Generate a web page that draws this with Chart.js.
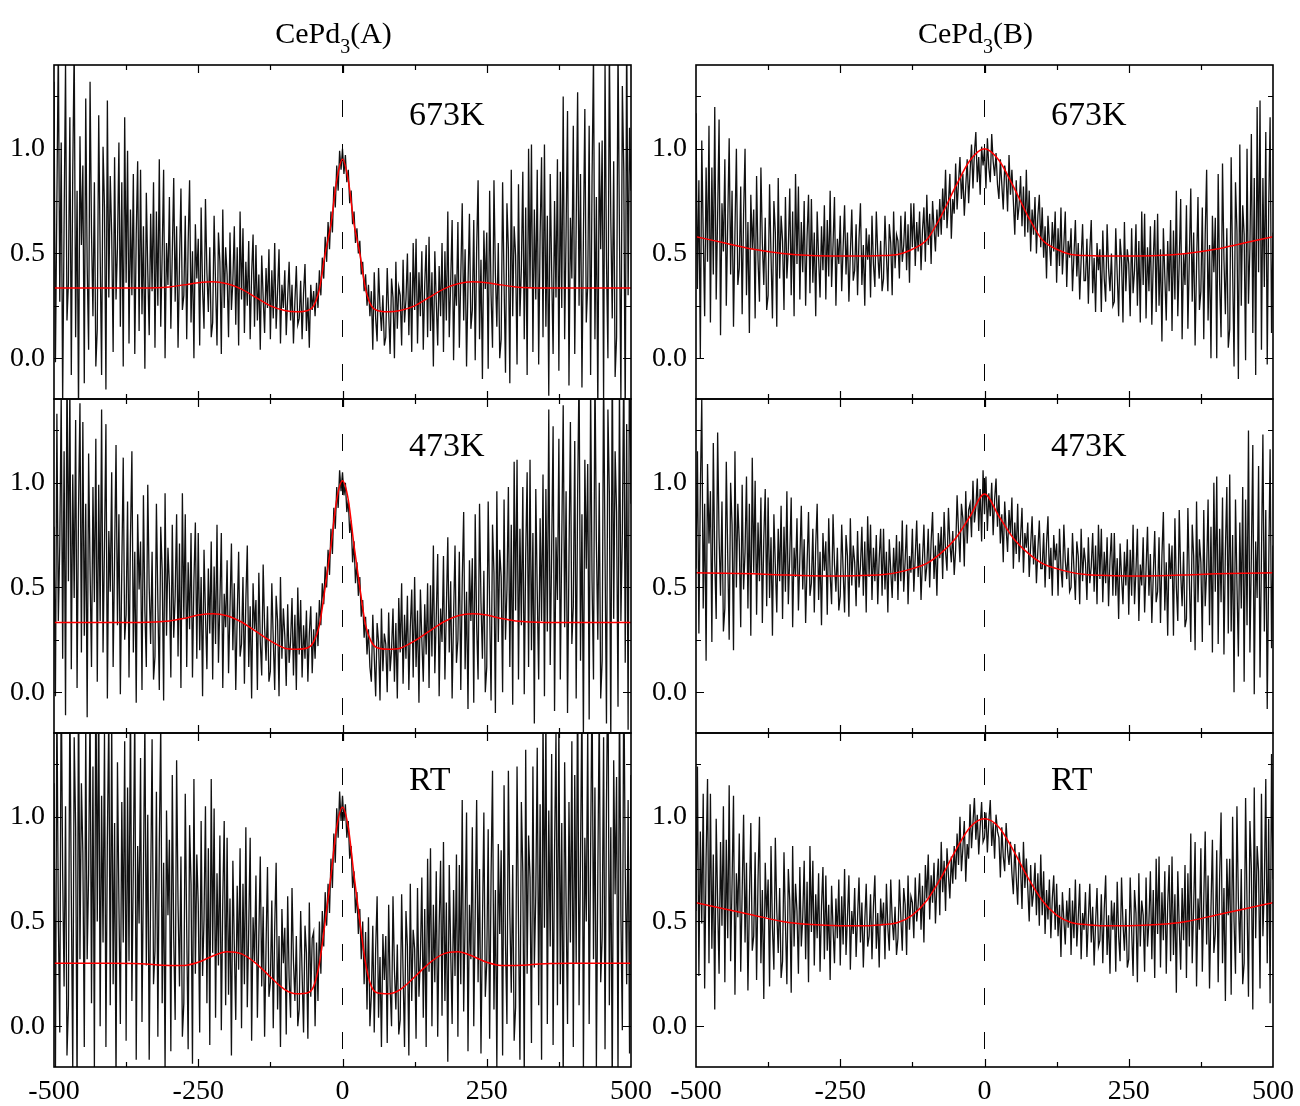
<!DOCTYPE html>
<html>
<head>
<meta charset="utf-8">
<script src="https://cdn.jsdelivr.net/npm/chart.js@4.4.0/dist/chart.umd.min.js"></script>
<style>
  body { margin: 0; background: #fff; }
  #wrap { position: relative; width: 1300px; height: 1106px; }
  #wrap canvas { position: absolute; }
</style>
</head>
<body>
<div id="wrap"></div>
<script>
// axis ticks
const xLabels = [-500, -250, 0, 250, 500];
const xMinor = [-375, -125, 125, 375];
const yLabels = [0, 0.5, 1.0];
const yMinor = [0.25, 0.75, 1.25];
const yMin = -0.195, yMax = 1.40;

// measured spectra, one sample every 2.5 units from -500 to 500
const noiseX = Array.from({ length: 401 }, (_, i) => -500 + 2.5 * i);

const noiseA673 = [
  1.32,-.02,.75,1.51,.27,1.03,-.21,.65,1.41,.18,
  .36,1.15,-.08,.89,1.5,.1,.8,-.25,1.06,.54,
  .92,-.12,1.24,.44,.04,1.32,.6,.2,.84,-.04,
  .14,1.16,.5,-.08,1.01,.72,-.15,1.23,.29,.87,
  .59,.03,.96,.28,.53,1.03,.15,.84,-.04,1.15,
  .36,.99,.07,.71,.3,.88,.02,.59,.94,.13,
  .9,.21,.63,-.05,.79,.42,.11,.69,.32,.84,
  .05,.7,.25,.95,.15,.5,.9,.0,.55,.35,
  .77,.14,.5,.86,.27,.63,.05,.45,.81,.23,
  .3,.68,.09,.55,.85,.17,.51,.0,.64,.38,
  .57,.06,.72,.33,.14,.76,.41,.22,.53,.1,
  .17,.68,.35,.06,.6,.46,.02,.71,.24,.53,
  .4,.1,.6,.23,.37,.63,.16,.53,.06,.7,
  .28,.62,.12,.46,.25,.56,.09,.4,.59,.15,
  .54,.18,.4,.04,.49,.29,.12,.43,.24,.52,
  .09,.42,.19,.55,.14,.32,.52,.07,.35,.24,
  .42,.11,.29,.46,.18,.35,.07,.27,.44,.16,
  .19,.37,.09,.31,.45,.13,.29,.05,.35,.23,
  .32,.2,.36,.24,.42,.3,.48,.38,.58,.46,
  .65,.52,.7,.6,.82,.72,.92,.8,.99,.9,
  1.0,.88,.97,.84,.9,.74,.8,.64,.7,.55,
  .62,.5,.56,.4,.46,.32,.4,.25,.35,.2,
  .32,.04,.41,.19,.08,.43,.24,.13,.3,.06,
  .1,.43,.22,.02,.38,.29,.0,.46,.14,.34,
  .3,.06,.47,.17,.28,.5,.11,.41,.03,.55,
  .23,.57,.07,.41,.2,.51,.04,.35,.54,.1,
  .58,.13,.41,-.04,.51,.27,.06,.44,.2,.55,
  .03,.51,.18,.7,.1,.36,.66,-.01,.4,.25,
  .65,.05,.39,.74,.18,.52,-.04,.35,.69,.14,
  .23,.66,-.01,.52,.85,.09,.47,-.1,.61,.33,
  .6,-.05,.8,.3,.05,.85,.4,.15,.55,.0,
  .09,.84,.36,-.07,.74,.52,-.12,.9,.2,.63,
  .49,-.03,.83,.2,.43,.89,.09,.72,-.08,1.0,
  .34,1.02,.03,.71,.28,.9,-.03,.59,.96,.1,
  1.02,.15,.68,-.18,.88,.42,.02,.75,.29,.95,
  -.06,.89,.24,1.25,.09,.6,1.18,-.13,.67,.38,
  1.11,.02,.64,1.27,.25,.88,-.14,.57,1.19,.17,
  .35,1.11,-.08,.86,1.45,.09,.77,-.25,1.03,.52,
  1.04,-.19,1.41,.47,.0,1.51,.66,.19,.94,-.09,
  .1,1.5,.6,-.2,1.3,.9,-.3,1.6,.3,1.1,
  .8
];
const noiseA473 = [
  .79,-.02,1.33,.34,.7,1.42,.16,1.15,-.11,1.6,
  .53,1.47,.11,1.04,.45,1.3,.02,.87,1.38,.19,
  1.29,.27,.9,-.12,1.14,.59,.12,.98,.43,1.21,
  .05,.99,.34,1.35,.19,.7,1.28,-.03,.77,.48,
  1.05,.12,.65,1.18,.32,.85,-.01,.59,1.12,.25,
  .37,.91,.07,.73,1.15,.19,.67,-.05,.85,.49,
  .72,.01,.94,.39,.12,.99,.5,.23,.67,.06,
  .17,.9,.43,.01,.79,.58,-.04,.95,.27,.69,
  .51,.07,.8,.26,.46,.85,.17,.71,.02,.95,
  .35,.85,.12,.62,.3,.76,.07,.53,.81,.16,
  .76,.2,.55,-.02,.68,.37,.11,.59,.28,.72,
  .06,.6,.23,.8,.14,.43,.76,.02,.47,.31,
  .63,.09,.4,.71,.2,.52,.01,.36,.67,.17,
  .23,.55,.04,.44,.7,.12,.41,-.03,.52,.3,
  .44,.01,.57,.24,.08,.61,.31,.15,.41,.05,
  .1,.52,.25,.01,.46,.34,-.02,.55,.16,.4,
  .27,.03,.42,.14,.24,.45,.08,.37,.01,.5,
  .18,.44,.07,.32,.16,.39,.05,.28,.41,.09,
  .3,.16,.38,.22,.44,.32,.52,.42,.6,.5,
  .68,.56,.78,.66,.88,.78,.98,.88,1.06,.96,
  1.05,.94,1.0,.86,.92,.76,.82,.62,.72,.52,
  .62,.46,.55,.36,.44,.26,.36,.18,.3,.12,
  .05,.37,.17,-.02,.33,.24,-.04,.4,.1,.28,
  .23,.0,.38,.1,.2,.4,.05,.33,-.03,.45,
  .19,.52,.04,.37,.16,.46,.01,.31,.49,.07,
  .55,.12,.39,-.05,.49,.25,.05,.42,.18,.52,
  .02,.51,.17,.7,.09,.36,.66,-.02,.4,.24,
  .65,.06,.4,.74,.19,.53,-.03,.36,.7,.14,
  .25,.67,.01,.53,.86,.11,.48,-.08,.63,.34,
  .64,-.05,.85,.32,.06,.9,.43,.16,.58,.0,
  .12,.91,.4,-.04,.8,.57,-.1,.96,.24,.68,
  .55,.0,.92,.25,.49,.98,.12,.8,-.06,1.1,
  .39,1.11,.06,.78,.32,.98,-.01,.65,1.05,.12,
  1.11,.2,.76,-.15,.97,.48,.06,.83,.34,1.04,
  -.02,.97,.29,1.35,.13,.67,1.27,-.09,.74,.44,
  1.21,.06,.72,1.37,.31,.96,-.1,.64,1.29,.23,
  .41,1.2,-.03,.94,1.55,.15,.85,-.2,1.11,.59,
  1.09,-.13,1.46,.53,.06,1.56,.72,.25,1.0,-.03,
  .15,1.55,.65,-.15,1.35,.95,-.25,1.65,.35,1.15,
  .86,-.07,1.49,.34,.76,1.59,.14,1.28,-.18,1.8,
  .9
];
const noiseART = [
  1.16,-.24,1.59,.51,-.03,1.69,.73,.19,1.05,-.14,
  .1,1.59,.63,-.21,1.38,.95,-.32,1.69,.32,1.16,
  .83,-.1,1.44,.32,.73,1.55,.11,1.24,-.2,1.75,
  .5,1.6,.0,1.1,.4,1.4,-.1,.9,1.5,.1,
  1.46,.2,.97,-.28,1.26,.59,.01,1.07,.4,1.36,
  -.07,1.14,.31,1.6,.12,.77,1.51,-.16,.86,.49,
  1.28,.02,.74,1.46,.29,1.01,-.16,.65,1.37,.2,
  .36,1.12,-.05,.87,1.45,.11,.78,-.22,1.03,.53,
  .89,-.12,1.2,.42,.03,1.27,.58,.19,.81,-.05,
  .11,1.11,.46,-.11,.96,.68,-.18,1.18,.25,.82,
  .58,-.03,.98,.24,.51,1.05,.11,.85,-.09,1.18,
  .35,1.04,.04,.73,.29,.91,-.02,.6,.98,.1,
  .9,.15,.61,-.14,.79,.38,.03,.67,.27,.85,
  -.01,.68,.2,.95,.09,.47,.9,-.07,.52,.31,
  .72,.04,.43,.81,.19,.57,-.05,.38,.76,.14,
  .21,.6,-.01,.47,.78,.08,.43,-.1,.56,.3,
  .47,-.04,.62,.23,.04,.66,.31,.12,.43,.0,
  .08,.55,.25,-.03,.48,.35,-.06,.59,.14,.42,
  .45,.0,.4,.12,.5,.25,.55,.38,.64,.48,
  .68,.54,.8,.66,.92,.78,1.04,.9,1.12,.98,
  1.1,.98,1.06,.9,.98,.8,.86,.66,.74,.54,
  .64,.44,.56,.32,.5,.2,.45,.08,.52,.0,
  .15,.48,-.03,.37,.62,.04,.33,-.1,.44,.22,
  .43,-.08,.58,.19,.0,.62,.27,.08,.39,-.04,
  .03,.63,.25,-.1,.55,.38,-.14,.68,.12,.46,
  .37,-.06,.66,.14,.33,.71,.04,.56,-.1,.8,
  .26,.85,.0,.58,.21,.74,-.05,.48,.79,.05,
  .88,.12,.59,-.17,.77,.36,.01,.65,.24,.82,
  -.05,.77,.2,1.08,.07,.51,1.02,-.12,.58,.32,
  .95,.0,.54,1.08,.21,.75,-.13,.48,1.02,.14,
  .3,.94,-.06,.72,1.22,.08,.65,-.2,.87,.44,
  .84,-.14,1.15,.39,.01,1.22,.54,.16,.77,-.07,
  .09,1.24,.5,-.16,1.07,.74,-.24,1.32,.25,.91,
  .71,-.08,1.24,.28,.63,1.33,.1,1.06,-.16,1.5,
  .47,1.49,.01,1.03,.38,1.3,-.09,.84,1.4,.1,
  1.46,.2,.97,-.28,1.26,.59,.01,1.07,.4,1.36,
  -.1,1.2,.3,1.7,.1,.8,1.6,-.2,.9,.5,
  1.44,.01,.83,1.65,.32,1.14,-.2,.73,1.55,.21,
  .42,1.38,-.11,1.06,1.8,.1,.95,-.32,1.27,.63,
  1.19,-.24,1.63,.53,-.02,1.74,.75,.2,1.08,-.13,
  1.2
];
const noiseB673 = [
  1.17,.33,.85,.0,1.04,.59,.2,.91,.46,1.11,
  .17,.91,.4,1.2,.28,.68,1.14,.11,.74,.51,
  .95,.25,.65,1.05,.4,.8,.15,.6,1.0,.35,
  .43,.82,.21,.69,1.0,.3,.65,.12,.78,.52,
  .71,.19,.87,.47,.27,.91,.55,.35,.67,.23,
  .3,.83,.49,.19,.75,.6,.15,.86,.38,.68,
  .56,.23,.77,.38,.52,.81,.3,.7,.2,.88,
  .45,.82,.28,.65,.41,.75,.25,.58,.78,.31,
  .76,.36,.6,.2,.7,.48,.29,.63,.42,.73,
  .28,.66,.39,.8,.34,.54,.77,.25,.57,.45,
  .68,.32,.53,.73,.4,.6,.27,.5,.71,.37,
  .42,.64,.3,.57,.74,.35,.54,.25,.62,.47,
  .59,.29,.68,.45,.34,.7,.5,.38,.56,.32,
  .38,.68,.49,.32,.64,.55,.3,.7,.43,.59,
  .56,.38,.68,.46,.54,.7,.42,.64,.36,.74,
  .53,.74,.44,.65,.51,.7,.42,.61,.72,.46,
  .78,.54,.69,.45,.75,.62,.51,.71,.58,.76,
  .59,.81,.66,.9,.62,.74,.88,.57,.76,.69,
  .93,.71,.84,.96,.76,.88,.68,.82,.95,.74,
  .89,1.02,.81,.98,1.08,.84,.96,.78,1.01,.92,
  1.0,.81,1.05,.91,.84,1.07,.94,.87,.98,.83,
  .76,.95,.83,.71,.92,.87,.7,.97,.78,.9,
  .75,.59,.85,.66,.73,.87,.63,.82,.58,.9,
  .6,.8,.51,.71,.59,.77,.5,.68,.78,.53,
  .72,.48,.63,.38,.68,.55,.44,.65,.51,.7,
  .36,.62,.44,.72,.4,.54,.7,.34,.56,.48,
  .62,.32,.49,.66,.39,.55,.28,.47,.64,.37,
  .37,.57,.26,.51,.66,.31,.48,.22,.55,.42,
  .52,.22,.61,.38,.27,.64,.43,.32,.5,.25,
  .27,.62,.4,.2,.57,.47,.17,.65,.32,.52,
  .45,.2,.62,.31,.42,.64,.25,.56,.17,.7,
  .35,.69,.19,.53,.32,.63,.16,.47,.66,.22,
  .69,.25,.52,.08,.62,.39,.18,.56,.32,.66,
  .13,.61,.28,.8,.2,.46,.76,.09,.5,.35,
  .73,.14,.48,.81,.27,.6,.06,.44,.77,.23,
  .32,.72,.09,.59,.9,.18,.54,.0,.68,.41,
  .67,.0,.88,.36,.1,.93,.47,.21,.62,.05,
  .14,.96,.43,-.04,.84,.61,-.1,1.02,.25,.73,
  .59,-.01,1.0,.26,.53,1.07,.12,.86,-.08,1.2,
  .41,1.23,.04,.86,.34,1.08,-.03,.71,1.15,.12,
  .6
];
const noiseB473 = [
  .59,1.15,.28,.96,1.4,.4,.9,.15,1.09,.71,
  .96,.24,1.19,.63,.35,1.24,.74,.46,.91,.29,
  .4,1.1,.65,.25,1.0,.8,.2,1.15,.5,.9,
  .72,.31,.99,.49,.67,1.03,.4,.9,.27,1.12,
  .57,1.01,.37,.81,.53,.93,.33,.73,.97,.41,
  .93,.45,.74,.27,.85,.6,.38,.78,.53,.89,
  .35,.79,.48,.96,.42,.65,.93,.31,.69,.55,
  .83,.39,.64,.89,.49,.73,.33,.61,.86,.46,
  .52,.78,.38,.7,.9,.44,.67,.32,.76,.58,
  .72,.37,.83,.56,.42,.85,.61,.48,.69,.39,
  .46,.8,.58,.38,.75,.65,.36,.83,.51,.7,
  .62,.41,.77,.5,.6,.79,.46,.72,.38,.84,
  .55,.8,.44,.69,.53,.75,.42,.64,.78,.46,
  .78,.49,.67,.38,.73,.58,.45,.69,.53,.75,
  .44,.72,.53,.82,.48,.63,.8,.42,.65,.57,
  .78,.48,.65,.82,.55,.71,.44,.63,.8,.53,
  .6,.78,.5,.72,.86,.54,.7,.46,.76,.64,
  .79,.54,.86,.67,.58,.88,.71,.62,.77,.56,
  .68,.94,.77,.62,.9,.83,.6,.96,.71,.87,
  .9,.74,1.01,.81,.88,1.02,.77,.97,.72,1.06,
  .85,1.03,.77,.95,.84,1.0,.75,.92,1.02,.79,
  .94,.71,.85,.62,.91,.78,.67,.87,.75,.93,
  .59,.81,.66,.9,.62,.74,.88,.57,.76,.69,
  .81,.55,.7,.84,.61,.75,.52,.68,.82,.59,
  .59,.76,.5,.71,.84,.54,.69,.46,.75,.63,
  .71,.46,.78,.59,.5,.8,.63,.54,.69,.48,
  .5,.76,.59,.44,.72,.65,.42,.78,.53,.69,
  .62,.44,.74,.52,.6,.76,.48,.7,.42,.8,
  .54,.78,.43,.67,.52,.74,.41,.63,.76,.46,
  .76,.46,.64,.35,.71,.55,.42,.67,.51,.73,
  .37,.68,.46,.8,.42,.58,.78,.34,.61,.51,
  .74,.38,.59,.79,.46,.66,.33,.56,.77,.43,
  .48,.74,.33,.65,.86,.39,.62,.27,.71,.54,
  .7,.27,.83,.5,.34,.87,.57,.41,.67,.31,
  .35,.88,.54,.24,.8,.65,.2,.91,.43,.73,
  .62,.24,.87,.41,.58,.92,.32,.79,.19,1.0,
  .48,1.03,.23,.78,.43,.93,.18,.68,.98,.28,
  1.04,.29,.75,.0,.92,.52,.17,.81,.4,.98,
  .05,.92,.32,1.25,.19,.65,1.18,-.01,.72,.45,
  1.08,.07,.65,1.23,.29,.87,-.08,.58,1.16,.21,
  .7
];
const noiseBRT = [
  .55,1.24,.24,.93,.49,1.11,.18,.8,1.18,.3,
  1.11,.37,.82,.08,.99,.59,.25,.88,.48,1.05,
  .21,.89,.42,1.15,.31,.68,1.1,.15,.73,.52,
  .92,.26,.64,1.01,.4,.78,.17,.59,.97,.36,
  .43,.83,.22,.7,1.0,.3,.65,.13,.78,.52,
  .7,.19,.86,.47,.27,.9,.55,.35,.66,.23,
  .31,.83,.49,.2,.75,.6,.16,.86,.38,.68,
  .55,.25,.76,.38,.52,.79,.32,.69,.21,.86,
  .45,.79,.29,.63,.42,.73,.26,.57,.76,.32,
  .72,.36,.58,.22,.67,.47,.3,.61,.42,.7,
  .29,.62,.39,.75,.34,.52,.72,.27,.55,.44,
  .66,.33,.52,.71,.4,.59,.28,.5,.68,.38,
  .43,.63,.32,.57,.72,.37,.54,.28,.61,.48,
  .59,.32,.68,.47,.36,.7,.51,.41,.57,.34,
  .42,.7,.52,.36,.66,.58,.34,.72,.46,.62,
  .59,.42,.71,.5,.58,.73,.46,.67,.4,.77,
  .61,.82,.51,.72,.59,.78,.49,.68,.8,.53,
  .88,.64,.79,.55,.85,.72,.61,.81,.68,.86,
  .7,.92,.77,1.0,.74,.85,.98,.69,.87,.8,
  1.06,.85,.97,1.09,.89,1.01,.82,.95,1.07,.88,
  .9,1.02,.83,.98,1.08,.86,.97,.8,1.01,.93,
  .9,.71,.95,.81,.74,.97,.84,.77,.88,.73,
  .63,.87,.71,.58,.83,.76,.56,.88,.66,.8,
  .66,.5,.77,.57,.64,.78,.53,.73,.48,.82,
  .53,.74,.44,.65,.51,.7,.42,.61,.72,.46,
  .68,.43,.58,.33,.64,.51,.39,.6,.47,.66,
  .34,.6,.42,.7,.38,.52,.68,.32,.54,.46,
  .64,.33,.51,.68,.4,.57,.29,.49,.66,.38,
  .41,.63,.3,.56,.72,.34,.53,.25,.6,.46,
  .59,.26,.69,.43,.31,.71,.49,.36,.56,.28,
  .32,.71,.46,.24,.65,.54,.21,.73,.38,.6,
  .53,.26,.71,.38,.5,.74,.32,.65,.23,.8,
  .44,.81,.28,.64,.41,.74,.25,.58,.77,.31,
  .81,.34,.63,.16,.74,.48,.27,.66,.41,.77,
  .23,.73,.38,.92,.3,.57,.88,.19,.61,.46,
  .85,.26,.6,.93,.39,.72,.18,.56,.89,.35,
  .44,.84,.21,.71,1.02,.3,.66,.12,.8,.53,
  .8,.15,1.0,.5,.25,1.05,.6,.35,.75,.2,
  .3,1.09,.58,.14,.98,.75,.08,1.14,.42,.86,
  .74,.18,1.11,.43,.68,1.18,.3,.99,.11,1.3,
  .7
];

// fitted curves (red)
const fitXA = [-500,-450,-400,-350,-300,-275,-250,-225,-200,-175,-150,-125,-100,-80,-60,-50,-40,-30,-20,-10,0,
               10,20,30,40,50,60,80,100,125,150,175,200,225,250,275,300,350,400,450,500];
const fitA673 = [.335,.335,.335,.335,.34,.35,.36,.365,.355,.33,.29,.25,.228,.222,.228,.25,.33,.5,.64,.85,.95,
                 .85,.64,.5,.33,.25,.228,.222,.228,.25,.29,.33,.355,.365,.36,.35,.34,.335,.335,.335,.335];
const fitA473 = [.333,.333,.333,.333,.34,.352,.368,.375,.365,.335,.29,.245,.21,.205,.212,.24,.32,.5,.7,.92,1.01,
                 .92,.7,.5,.32,.24,.212,.205,.21,.245,.29,.335,.365,.375,.368,.352,.34,.333,.333,.333,.333];
const fitART = [.30,.30,.30,.298,.29,.29,.305,.335,.355,.345,.30,.235,.175,.155,.16,.19,.30,.5,.72,.95,1.045,
                .95,.72,.5,.30,.19,.16,.155,.175,.235,.30,.345,.355,.335,.305,.29,.29,.298,.30,.30,.30];

const fitXB = [-500,-450,-400,-350,-300,-250,-200,-175,-150,-125,-100,-75,-50,-25,0,
               25,50,75,100,125,150,175,200,250,300,350,400,450,500];
const fitB673 = [.58,.55,.52,.50,.49,.488,.488,.49,.495,.52,.565,.68,.82,.945,1.0,
                 .945,.82,.68,.565,.52,.495,.49,.488,.488,.49,.50,.52,.55,.58];
const fitB473 = [.57,.568,.565,.56,.556,.555,.558,.562,.572,.59,.615,.665,.735,.84,.946,
                 .84,.735,.665,.615,.59,.572,.562,.558,.555,.556,.56,.565,.568,.57];
const fitBRT = [.59,.56,.53,.50,.485,.48,.48,.485,.495,.53,.60,.71,.84,.95,.99,
                .95,.84,.71,.60,.53,.495,.485,.48,.48,.485,.50,.53,.56,.59];

const tempLabels = ['673K', '473K', 'RT'];
const titleA = ['CePd', '3', '(A)'];
const titleB = ['CePd', '3', '(B)'];

Chart.defaults.font.family = '"Liberation Serif", "Times New Roman", serif';
Chart.defaults.color = '#000';

const decor = {
  id: 'decor',
  afterDraw(chart, args, o) {
    const { ctx, chartArea: a, scales: { x, y } } = chart;
    ctx.save();
    ctx.strokeStyle = '#000';
    ctx.lineWidth = 1.2;
    ctx.beginPath();
    xLabels.concat(xMinor).forEach(v => {
      if (v === -500 || v === 500) return;
      const px = Math.round(x.getPixelForValue(v)) + 0.5;
      const len = xLabels.includes(v) ? 8 : 5;
      ctx.moveTo(px, a.top); ctx.lineTo(px, a.top + len);
      ctx.moveTo(px, a.bottom); ctx.lineTo(px, a.bottom - len);
    });
    yLabels.concat(yMinor).forEach(v => {
      const py = Math.round(y.getPixelForValue(v)) + 0.5;
      const len = yLabels.includes(v) ? 8 : 5;
      ctx.moveTo(a.left, py); ctx.lineTo(a.left + len, py);
      ctx.moveTo(a.right, py); ctx.lineTo(a.right - len, py);
    });
    ctx.stroke();
    ctx.lineWidth = 1.6;
    ctx.strokeRect(a.left, a.top, a.right - a.left, a.bottom - a.top);

    ctx.fillStyle = '#000';
    ctx.textBaseline = 'alphabetic';
    ctx.font = '34px "Liberation Serif"';
    ctx.fillText(o.label, a.left + 355, a.top + o.labelDy);

    if (o.title) {
      const [t1, sub, t2] = o.title;
      ctx.font = '30px "Liberation Serif"';
      const w1 = ctx.measureText(t1).width, w3 = ctx.measureText(t2).width;
      ctx.font = '20px "Liberation Serif"';
      const w2 = ctx.measureText(sub).width;
      let tx = (a.left + a.right) / 2 - 9 - (w1 + w2 + w3) / 2;
      const ty = a.top - 22;
      ctx.font = '30px "Liberation Serif"';
      ctx.fillText(t1, tx, ty);
      tx += w1;
      ctx.font = '20px "Liberation Serif"';
      ctx.fillText(sub, tx, ty + 10);
      tx += w2;
      ctx.font = '30px "Liberation Serif"';
      ctx.fillText(t2, tx, ty);
    }
    ctx.restore();
  }
};

const panels = [
  { col: 0, row: 0, noise: noiseA673, fitX: fitXA, fit: fitA673, title: titleA },
  { col: 0, row: 1, noise: noiseA473, fitX: fitXA, fit: fitA473 },
  { col: 0, row: 2, noise: noiseART, fitX: fitXA, fit: fitART },
  { col: 1, row: 0, noise: noiseB673, fitX: fitXB, fit: fitB673, title: titleB },
  { col: 1, row: 1, noise: noiseB473, fitX: fitXB, fit: fitB473 },
  { col: 1, row: 2, noise: noiseBRT, fitX: fitXB, fit: fitBRT },
];

const plotLefts = [54, 696];
const plotTops = [65, 399, 733];
const plotW = 577, plotH = 334;
const wrap = document.getElementById('wrap');

panels.forEach(p => {
  const padTop = p.row === 0 ? plotTops[0] : 4;
  const axisH = p.row === 2 ? 40 : 0;
  const padBottom = p.row === 2 ? 0 : 4;
  const cv = document.createElement('canvas');
  const w = 54 + plotW + 30;
  const h = padTop + plotH + axisH + padBottom;
  cv.width = w; cv.height = h;
  cv.style.left = (plotLefts[p.col] - 54) + 'px';
  cv.style.top = (plotTops[p.row] - padTop) + 'px';
  cv.style.width = w + 'px'; cv.style.height = h + 'px';
  wrap.appendChild(cv);

  new Chart(cv.getContext('2d'), {
    type: 'line',
    data: {
      datasets: [
        {
          data: p.fitX.map((x, i) => ({ x, y: p.fit[i] })),
          borderColor: '#ff0000',
          borderWidth: 1.5,
          pointRadius: 0,
          cubicInterpolationMode: 'monotone',
        },
        {
          data: [{ x: 0, y: yMax }, { x: 0, y: yMin }],
          borderColor: '#000',
          borderWidth: 1,
          borderDash: [17, 27],
          borderDashOffset: 9,
          pointRadius: 0,
        },
        {
          data: noiseX.map((x, i) => ({ x, y: p.noise[i] })),
          borderColor: '#111',
          borderWidth: 1.3,
          pointRadius: 0,
          tension: 0,
        },
      ]
    },
    options: {
      responsive: false,
      animation: false,
      events: [],
      layout: { padding: { left: 0, right: 30, top: padTop, bottom: padBottom } },
      plugins: {
        legend: { display: false },
        tooltip: { enabled: false },
        decor: { label: tempLabels[p.row], labelDy: p.row === 0 ? 60 : 57, title: p.title },
      },
      scales: {
        x: {
          type: 'linear', min: -500, max: 500,
          grid: { display: false, drawTicks: false },
          border: { display: false },
          ticks: { display: p.row === 2, font: { size: 28 }, padding: 8, maxRotation: 0,
                   callback: v => String(v) },
          afterBuildTicks: s => { s.ticks = xLabels.map(v => ({ value: v })); },
          afterFit: s => { s.height = axisH; s.paddingLeft = 0; s.paddingRight = 0; },
        },
        y: {
          type: 'linear', min: yMin, max: yMax,
          grid: { display: false, drawTicks: false },
          border: { display: false },
          ticks: { font: { size: 28 }, padding: 9, callback: v => Number(v).toFixed(1) },
          afterBuildTicks: s => { s.ticks = yLabels.map(v => ({ value: v })); },
          afterFit: s => { s.width = 54; s.paddingTop = 0; s.paddingBottom = 0; },
        },
      },
    },
    plugins: [decor],
  });
});
</script>
</body>
</html>
